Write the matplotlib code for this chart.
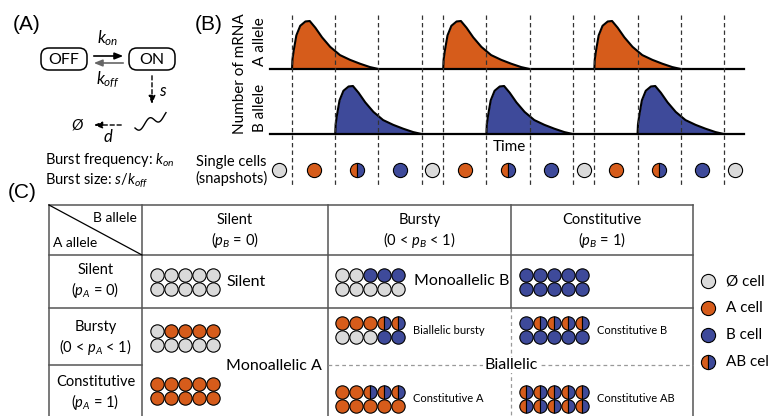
import matplotlib.pyplot as plt
import matplotlib.transforms as mtransforms
from matplotlib.patches import FancyBboxPatch
import numpy as np

plt.rcParams['font.family'] = ['Lato', 'DejaVu Sans']
plt.rcParams['mathtext.fontset'] = 'custom'
plt.rcParams['mathtext.rm'] = 'Lato'
plt.rcParams['mathtext.it'] = 'Lato:italic'

ORANGE = '#D65C1B'
BLUE = '#3E4A9A'
GREY = '#DADADA'

# panel B: time in arbitrary units
snapshot_times = [0, 2, 4, 6, 7, 9, 11, 13, 14, 16, 18, 20]
burst_a_starts = [0, 7, 14]
burst_b_starts = [2, 9, 16]
burst_dt = [0, 0.02, 0.08, 0.20, 0.38, 0.62, 0.82, 1.08, 1.39, 1.77, 2.22, 2.69, 3.15, 3.61, 4.0]
burst_h = [0, 0.20, 0.39, 0.70, 0.90, 0.99, 1.0, 0.86, 0.66, 0.46, 0.29, 0.19, 0.11, 0.04, 0]
cell_times = [-0.6, 1, 3, 5, 6.5, 8, 10, 12, 13.5, 15, 17, 19, 20.5]
cell_states = ['0', 'A', 'AB', 'B', '0', 'A', 'AB', 'B', '0', 'A', 'AB', 'B', '0']

# panel C
col_names = ['Silent', 'Bursty', 'Constitutive']
col_params = [r'($p_B$ = 0)', r'(0 < $p_B$ < 1)', r'($p_B$ = 1)']
row_names = ['Silent', 'Bursty', 'Constitutive']
row_params = [r'($p_A$ = 0)', r'(0 < $p_A$ < 1)', r'($p_A$ = 1)']

grids = [
    [[['0'] * 5, ['0'] * 5],
     [['0', '0', 'B', 'B', 'B'], ['0'] * 5],
     [['B'] * 5, ['B'] * 5]],
    [[['0', 'A', 'A', 'A', 'A'], ['0'] * 5],
     [['A', 'A', 'A', 'AB', 'AB'], ['0', '0', '0', 'B', 'B']],
     [['B', 'AB', 'AB', 'AB', 'AB'], ['B'] * 5]],
    [[['A'] * 5, ['A'] * 5],
     [['A', 'A', 'AB', 'AB', 'AB'], ['A'] * 5],
     [['AB'] * 5, ['AB'] * 5]],
]
legend_states = ['0', 'A', 'B', 'AB']
legend_names = ['Ø cell', 'A cell', 'B cell', 'AB cell']

state_colors = {'0': GREY, 'A': ORANGE, 'B': BLUE}


def draw_cell(axis, x, y, state, ms, **kw):
    if state == 'AB':
        axis.plot(x, y, marker='o', ms=ms, fillstyle='left', markerfacecolor=ORANGE,
                  markerfacecoloralt=BLUE, markeredgecolor='black', mew=0.8, ls='none', **kw)
    else:
        axis.plot(x, y, marker='o', ms=ms, markerfacecolor=state_colors[state],
                  markeredgecolor='black', mew=0.8, ls='none', **kw)


fig = plt.figure(figsize=(7.68, 4.16), dpi=100)
ax = fig.add_axes([0, 0, 1, 1])
ax.set_xlim(0, 768)
ax.set_ylim(416, 0)
ax.axis('off')
ax.set_zorder(3)

# ---------------- panel A
ax.text(13, 24, '(A)', fontsize=15, family='Liberation Sans', va='center')
for cx, lab in [(64, 'OFF'), (152, 'ON')]:
    ax.add_patch(FancyBboxPatch((cx - 23, 48), 46, 22, boxstyle='round,pad=0,rounding_size=8',
                                fc='white', ec='black', lw=1.1))
    ax.text(cx, 59.5, lab, fontsize=11.5, ha='center', va='center')
ax.annotate('', xy=(126, 56), xytext=(91, 56),
            arrowprops=dict(arrowstyle='-|>,head_length=0.5,head_width=0.2', color='black', lw=1.2))
ax.annotate('', xy=(91, 63), xytext=(126, 63),
            arrowprops=dict(arrowstyle='-|>,head_length=0.5,head_width=0.2', color='#666666', lw=1.2))
ax.text(108, 38, r'$k_{on}$', fontsize=12, ha='center', va='center')
ax.text(108, 80, r'$k_{off}$', fontsize=12, ha='center', va='center')
ax.annotate('', xy=(152, 107), xytext=(152, 73),
            arrowprops=dict(arrowstyle='-|>,head_length=0.5,head_width=0.2', color='black', lw=1,
                            linestyle=(0, (3, 2))))
ax.text(163, 91, '$s$', fontsize=12, ha='center', va='center')
sq = np.linspace(0, 1, 60)
ax.plot(135 + 31 * sq, 128 - 13 * sq + 4 * np.sin(sq * 2 * np.pi * 1.6), color='black', lw=1)
ax.annotate('', xy=(91, 125), xytext=(124, 125),
            arrowprops=dict(arrowstyle='-|>,head_length=0.5,head_width=0.2', color='black', lw=1,
                            linestyle=(0, (3, 2))))
ax.text(77, 125, 'Ø', fontsize=11, style='italic', ha='center', va='center')
ax.text(108, 137, '$d$', fontsize=12, ha='center', va='center')
ax.text(45, 160, r'Burst frequency: $k_{on}$', fontsize=10.5, va='center')
ax.text(45, 180, r'Burst size: $s/k_{off}$', fontsize=10.5, va='center')

# ---------------- panel B
ax.text(195, 24, '(B)', fontsize=15, family='Liberation Sans', va='center')
x_left, x_right = 270, 744
t_min, t_max = -1.02, 20.93
ax_a = fig.add_axes([x_left / 768, 1 - 69 / 416, (x_right - x_left) / 768, 52 / 416])
ax_b = fig.add_axes([x_left / 768, 1 - 134 / 416, (x_right - x_left) / 768, 52 / 416])
for sub, starts, col in [(ax_a, burst_a_starts, ORANGE), (ax_b, burst_b_starts, BLUE)]:
    sub.set_xlim(t_min, t_max)
    sub.set_ylim(0, 52 / 48)
    sub.axis('off')
    sub.set_zorder(1)
    for t0 in starts:
        tt = np.add(burst_dt, t0)
        sub.fill_between(tt, burst_h, color=col, lw=0)
        sub.plot(tt, burst_h, color='black', lw=1.5, clip_on=False)
    sub.plot([t_min, t_max], [0, 0], color='black', lw=1.6, clip_on=False)

blend = mtransforms.blended_transform_factory(ax_a.transData, ax.transData)
for t in snapshot_times:
    ax.plot([t, t], [15, 186], transform=blend, color='#333333', lw=0.9, ls=(0, (3.5, 2.5)))
for t, s in zip(cell_times, cell_states):
    draw_cell(ax, t, 170, s, 10.2, transform=blend, zorder=4)

ax.text(240, 74, 'Number of mRNA', rotation=90, fontsize=11, ha='center', va='center')
ax.text(260, 42, 'A allele', rotation=90, fontsize=11, ha='center', va='center')
ax.text(260, 108, 'B allele', rotation=90, fontsize=11, ha='center', va='center')
ax.text(509, 147, 'Time', fontsize=11, ha='center', va='center')
ax.text(231, 162, 'Single cells', fontsize=10.5, ha='center', va='center')
ax.text(231, 178, '(snapshots)', fontsize=10.5, ha='center', va='center')

# ---------------- panel C
ax.text(8, 192, '(C)', fontsize=15, family='Liberation Sans', va='center')
col_x = [49, 142, 328, 511, 693]
row_y = [205, 255, 308, 365]
line_kw = dict(color='#555555', lw=1.1)
for y in row_y[:3]:
    ax.plot([col_x[0], col_x[-1]], [y, y], **line_kw)
ax.plot([col_x[0], col_x[1]], [365, 365], **line_kw)
for x in [49, 142, 328, 693]:
    ax.plot([x, x], [205, 420], **line_kw)
ax.plot([511, 511], [205, 308], **line_kw)
ax.plot([49, 142], [205, 255], color='black', lw=0.9)
ax.plot([511, 511], [308, 420], color='#999999', lw=0.9, ls=(0, (3, 2.5)))
ax.plot([328, 693], [365, 365], color='#999999', lw=0.9, ls=(0, (3, 2.5)))

ax.text(137, 218, 'B allele', fontsize=10, ha='right', va='center')
ax.text(53, 243, 'A allele', fontsize=10, ha='left', va='center')
for j in range(3):
    cx = (col_x[j + 1] + col_x[j + 2]) / 2
    ax.text(cx, 220, col_names[j], fontsize=10.5, ha='center', va='center')
    ax.text(cx, 240, col_params[j], fontsize=10.5, ha='center', va='center')
row_text_y = [(270, 290), (327, 347), (382, 402)]
for i in range(3):
    ax.text(95.5, row_text_y[i][0], row_names[i], fontsize=10.5, ha='center', va='center')
    ax.text(95.5, row_text_y[i][1], row_params[i], fontsize=10.5, ha='center', va='center')

grid_x0 = [150, 335, 519]
grid_y0 = [[268, 268, 268], [324, 316, 316], [377, 385, 385]]
for i in range(3):
    for j in range(3):
        g = grids[i][j]
        for r in range(2):
            for c in range(5):
                draw_cell(ax, grid_x0[j] + 7 + 14 * c, grid_y0[i][j] + 7 + 14 * r, g[r][c], 9.6)

ax.text(226, 282, 'Silent', fontsize=11.5, va='center')
ax.text(414, 281, 'Monoallelic B', fontsize=11.5, va='center')
ax.text(226, 366, 'Monoallelic A', fontsize=11.5, va='center')
ax.text(511, 365, 'Biallelic', fontsize=11.5, ha='center', va='center',
        bbox=dict(fc='white', ec='none', pad=1))
ax.text(413, 331, 'Biallelic bursty', fontsize=8, va='center')
ax.text(597, 330, 'Constitutive B', fontsize=8, va='center')
ax.text(413, 398, 'Constitutive A', fontsize=8, va='center')
ax.text(597, 398, 'Constitutive AB', fontsize=8, va='center')

for k, (s, name) in enumerate(zip(legend_states, legend_names)):
    y = 281 + 27 * k
    draw_cell(ax, 708, y, s, 10.2)
    ax.text(726, y, name, fontsize=11, va='center')

fig.savefig('out.png', dpi=100)
